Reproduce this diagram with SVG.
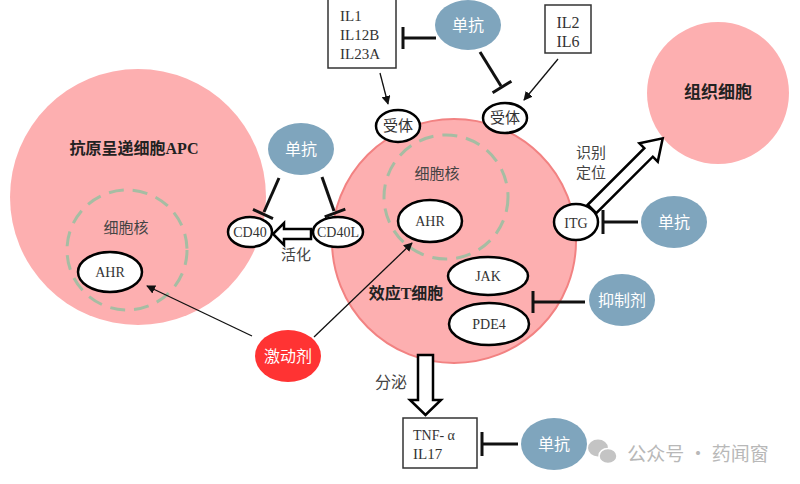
<svg xmlns="http://www.w3.org/2000/svg" width="800" height="484" viewBox="0 0 800 484">
<style>
text{font-family:"Liberation Serif","Noto Sans CJK SC",serif;text-anchor:middle;dominant-baseline:central;fill:#333}
.cell{fill:#fdafb0}
.nuc{fill:none;stroke:#a6bda3;stroke-width:3;stroke-dasharray:15 9}
.node{fill:#fff;stroke:#000;stroke-width:2.5}
.ab{fill:#7fa5bd}
.w{fill:#fff;font-size:16px}
.lbl{font-size:15px;fill:#444}
.big{font-size:16px;font-weight:bold;fill:#222}
.box{fill:#fff;stroke:#333;stroke-width:1.5}
.inh{stroke:#111;stroke-width:3;fill:none}
.thin{stroke:#111;stroke-width:1.3;fill:none;marker-end:url(#ah)}
.blk{fill:#fff;stroke:#000;stroke-width:2.5;stroke-linejoin:miter}
.lt{text-anchor:start;font-size:15px}
</style>
<defs>
<marker id="ah" viewBox="0 0 10 10" refX="9" refY="5" markerWidth="9" markerHeight="9" markerUnits="userSpaceOnUse" orient="auto">
<path d="M0,0 L10,5 L0,10 z" fill="#111"/>
</marker>
</defs>
<rect width="800" height="484" fill="#fff"/>

<g id="apc">
<circle class="cell" cx="138" cy="197" r="128"/>
<text class="big" x="134" y="148">抗原呈递细胞APC</text>
<circle class="nuc" cx="127" cy="250" r="60"/>
<text class="lbl" x="126" y="228">细胞核</text>
</g>
<g id="tcell">
<circle class="cell" cx="454" cy="241" r="122" stroke="#f28282" stroke-width="2"/>
<circle class="nuc" cx="446" cy="197" r="62"/>
<text class="lbl" x="437" y="174">细胞核</text>
<text class="big" x="406" y="293">效应T细胞</text>
</g>
<g id="tissue">
<circle class="cell" cx="718" cy="93" r="71"/>
<text class="big" x="718" y="92" style="font-size:17px">组织细胞</text>
</g>

<g id="connectors">
<!-- block arrows -->
<polygon class="blk" points="311,229 284,229 284,223 273,234 284,245 284,239 311,239"/>
<polygon class="blk" points="418,355 433,355 433,400 441,400 425.5,415 410,400 418,400"/>
<polygon class="blk" transform="translate(592,209) rotate(-45)" points="0,-6 80,-6 80,-13 100,0 80,13 80,6 0,6"/>
<!-- thin arrows -->
<line class="thin" x1="380" y1="73" x2="388" y2="104"/>
<line class="thin" x1="558" y1="59" x2="524" y2="100"/>
<line class="thin" x1="252" y1="336" x2="147" y2="286"/>
<line class="thin" x1="314" y1="337" x2="412" y2="243"/>
<!-- inhibitions -->
<line class="inh" x1="279" y1="178" x2="264" y2="212"/>
<line class="inh" x1="253" y1="209.4" x2="273" y2="218.6"/>
<line class="inh" x1="322" y1="177" x2="334" y2="211"/>
<line class="inh" x1="324.7" y1="216.8" x2="345.3" y2="209.2"/>
<line class="inh" x1="436" y1="38" x2="403" y2="38"/>
<line class="inh" x1="403" y1="27" x2="403" y2="49"/>
<line class="inh" x1="480" y1="52" x2="501" y2="86"/>
<line class="inh" x1="492.6" y1="92.8" x2="511.4" y2="81.2"/>
<line class="inh" x1="638" y1="222" x2="603" y2="222"/>
<line class="inh" x1="603" y1="210" x2="603" y2="234"/>
<line class="inh" x1="585" y1="302" x2="533" y2="302"/>
<line class="inh" x1="533" y1="291" x2="533" y2="313"/>
<line class="inh" x1="518" y1="444" x2="482" y2="444"/>
<line class="inh" x1="482" y1="432" x2="482" y2="456"/>
<!-- labels -->
<text class="lbl" x="296" y="255">活化</text>
<text class="lbl" x="391" y="382" style="font-size:16px">分泌</text>
<text class="lbl" x="591" y="153">识别</text>
<text class="lbl" x="591" y="173">定位</text>
</g>

<g id="ahr-apc"><ellipse class="node" cx="110" cy="272" rx="32" ry="20"/><text x="110" y="272" style="font-size:14px">AHR</text></g>
<g id="ahr-t"><ellipse class="node" cx="430" cy="221" rx="32" ry="21"/><text x="430" y="221" style="font-size:14px">AHR</text></g>
<g id="jak"><ellipse class="node" cx="488" cy="276" rx="40" ry="19"/><text x="488" y="276" style="font-size:14px">JAK</text></g>
<g id="pde4"><ellipse class="node" cx="489" cy="324" rx="40" ry="21"/><text x="489" y="324" style="font-size:14px">PDE4</text></g>
<g id="cd40"><ellipse class="node" cx="250" cy="232" rx="22" ry="15"/><text x="250" y="232" style="font-size:14px">CD40</text></g>
<g id="cd40l"><ellipse class="node" cx="338" cy="232" rx="25" ry="15"/><text x="338" y="232" style="font-size:14px">CD40L</text></g>
<g id="receptor1"><ellipse class="node" cx="398" cy="126" rx="22" ry="16"/><text x="398" y="126" style="font-size:15px">受体</text></g>
<g id="receptor2"><ellipse class="node" cx="505" cy="118" rx="22" ry="15"/><text x="505" y="118" style="font-size:15px">受体</text></g>
<g id="itg"><ellipse class="node" cx="576" cy="222" rx="22" ry="18"/><text x="576" y="223" style="font-size:14px">ITG</text></g>

<g id="il1box"><rect class="box" x="328" y="-2" width="68" height="70"/>
<text class="lt" x="340" y="16">IL1</text><text class="lt" x="340" y="35">IL12B</text><text class="lt" x="340" y="54">IL23A</text></g>
<g id="il2box"><rect class="box" x="545" y="5" width="46" height="48"/>
<text x="568" y="22" style="font-size:16px">IL2</text><text x="568" y="41" style="font-size:16px">IL6</text></g>
<g id="tnfbox"><rect class="box" x="403" y="418" width="74" height="50"/>
<text class="lt" x="413" y="435" style="font-size:14px">TNF- α</text><text class="lt" x="413" y="454" style="font-size:15px">IL17</text></g>

<g id="mab1"><ellipse class="ab" cx="301" cy="149" rx="33" ry="26"/><text class="w" x="301" y="149">单抗</text></g>
<g id="mab2"><ellipse class="ab" cx="468" cy="25" rx="33" ry="25"/><text class="w" x="468" y="25">单抗</text></g>
<g id="mab3"><ellipse class="ab" cx="674" cy="222" rx="33" ry="26"/><text class="w" x="674" y="222">单抗</text></g>
<g id="mab4"><ellipse class="ab" cx="554" cy="444" rx="33" ry="26"/><text class="w" x="554" y="444">单抗</text></g>
<g id="inhibitor"><ellipse class="ab" cx="622" cy="300" rx="33" ry="26"/><text class="w" x="622" y="300">抑制剂</text></g>
<g id="agonist"><ellipse cx="288" cy="356" rx="33" ry="26" fill="#ff3333"/><text class="w" x="288" y="356">激动剂</text></g>

<g id="watermark">
<ellipse cx="598" cy="448" rx="10" ry="8.5" fill="#c4c4c4"/>
<ellipse cx="608" cy="456" rx="9" ry="7.5" fill="#c4c4c4" stroke="#fff" stroke-width="1.5"/>
<text x="698" y="452" style="font-family:'Noto Sans CJK SC',sans-serif;font-size:19px;fill:#b8b8b8">公众号 · 药闻窗</text>
</g>
</svg>
